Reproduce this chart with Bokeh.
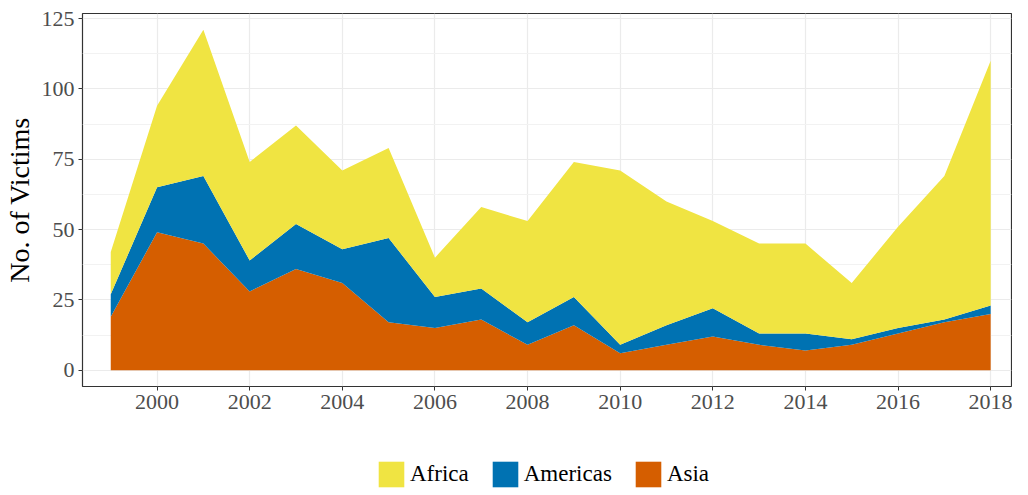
from bokeh.plotting import figure
from bokeh.models import ColumnDataSource, Range1d, FixedTicker, Legend, LegendItem
from bokeh.layouts import column
from bokeh.embed import file_html
from bokeh.resources import INLINE

years = list(range(1999, 2019))
asia = [19, 49, 45, 28, 36, 31, 17, 15, 18, 9, 16, 6, 9, 12, 9, 7, 9, 13, 17, 20]
americas = [8, 16, 24, 11, 16, 12, 30, 11, 11, 8, 10, 3, 7, 10, 4, 6, 2, 2, 1, 3]
africa = [15, 29, 52, 35, 35, 28, 32, 14, 29, 36, 48, 62, 44, 31, 32, 32, 20, 36, 51, 87]
x_ticks = [2000, 2002, 2004, 2006, 2008, 2010, 2012, 2014, 2016, 2018]
y_ticks = [0, 25, 50, 75, 100, 125]
regions = ["Africa", "Americas", "Asia"]

colors = {"Africa": "#F0E442", "Americas": "#0072B2", "Asia": "#D55E00"}
FONT = "Liberation Serif"

src = ColumnDataSource(dict(year=years, Asia=asia, Americas=americas, Africa=africa))

p = figure(width=1012, height=430, output_backend="svg", toolbar_location=None,
           x_range=Range1d(1998.39, 2018.45), y_range=Range1d(-5.8, 126.8),
           min_border_top=13, min_border_right=1, min_border_left=78, min_border_bottom=44)

rs = p.varea_stack(["Asia", "Americas", "Africa"], x="year", source=src,
                   color=[colors["Asia"], colors["Americas"], colors["Africa"]])

p.background_fill_color = "white"
p.border_fill_color = "white"
p.outline_line_color = "#333333"
p.outline_line_width = 1.2

p.xaxis.ticker = FixedTicker(ticks=x_ticks)
p.yaxis.ticker = FixedTicker(ticks=y_ticks, minor_ticks=[12.5, 37.5, 62.5, 87.5, 112.5])
for ax in (p.xaxis[0], p.yaxis[0]):
    ax.axis_line_color = None
    ax.major_tick_line_color = "#333333"
    ax.major_tick_out = 4
    ax.major_tick_in = 0
    ax.minor_tick_line_color = None
    ax.major_label_text_font = FONT
    ax.major_label_text_font_size = "22px"
    ax.major_label_text_color = "#4D4D4D"
    ax.major_label_standoff = 4

p.yaxis.axis_label = "No. of Victims"
p.yaxis.axis_label_text_font = FONT
p.yaxis.axis_label_text_font_size = "28px"
p.yaxis.axis_label_text_font_style = "normal"
p.yaxis.axis_label_text_color = "black"
p.yaxis.axis_label_standoff = 4

p.xgrid.grid_line_color = "#EBEBEB"
p.xgrid.grid_line_width = 1.2
p.ygrid.grid_line_color = "#EBEBEB"
p.ygrid.grid_line_width = 1.2
p.ygrid.minor_grid_line_color = "#F2F2F2"
p.ygrid.minor_grid_line_width = 1

# legend in its own strip below the chart
pl = figure(width=1012, height=60, output_backend="svg", toolbar_location=None,
            x_range=Range1d(0, 1), y_range=Range1d(0, 1), min_border=0)
pl.axis.visible = False
pl.grid.grid_line_color = None
pl.outline_line_color = None
items = []
for r in regions:
    g = pl.varea(x=[0, 1], y1=[0, 0], y2=[0, 0], color=colors[r])
    items.append(LegendItem(label=r, renderers=[g]))
legend = Legend(items=items, orientation="horizontal", location=(293, 0),
                glyph_width=32, glyph_height=32, label_standoff=3, spacing=20,
                padding=0, margin=0, border_line_color=None,
                background_fill_alpha=0,
                label_text_font=FONT, label_text_font_size="23px",
                label_text_color="black", label_height=32)
pl.add_layout(legend)

open("out.html", "w").write(file_html(column(p, pl), INLINE))
